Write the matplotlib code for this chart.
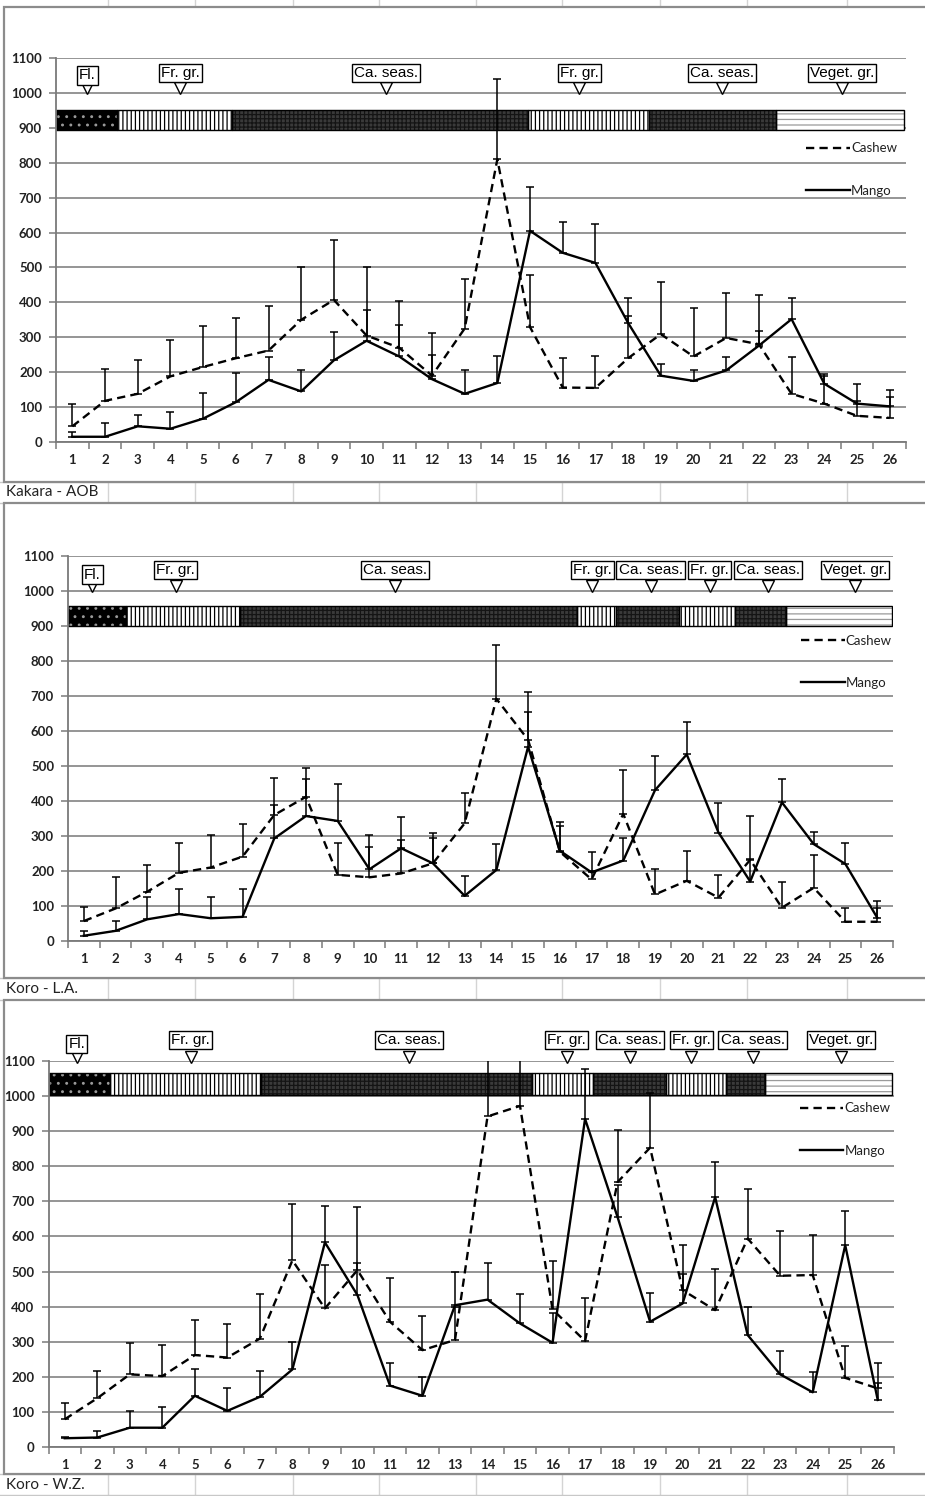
import matplotlib
matplotlib.use("Agg")
import matplotlib.pyplot as plt
import numpy as np
from matplotlib.patches import Rectangle
from matplotlib.lines import Line2D

plt.rcParams["hatch.linewidth"] = 0.9

W, H = 925, 1496
weeks = list(range(1, 27))

# ---------------- data ----------------
kakara_cashew = [45, 118, 138, 188, 215, 240, 262, 350, 407, 305, 270, 190, 325,
                 810, 329, 156, 155, 240, 309, 245, 298, 280, 138, 110, 75, 69]
kakara_cashew_top = [109, 210, 236, 291, 331, 355, 390, 501, 580, 500, 405, 312, 468,
                     1040, 477, 240, 247, 362, 457, 384, 427, 421, 243, 190, 118, 129]
kakara_mango = [15, 15, 45, 38, 67, 114, 178, 145, 234, 290, 245, 180, 138,
                169, 605, 542, 513, 341, 190, 175, 205, 276, 352, 167, 110, 102]
kakara_mango_top = [30, 54, 78, 87, 140, 199, 244, 207, 316, 377, 334, 250, 207,
                    247, 730, 630, 625, 412, 224, 207, 243, 317, 412, 195, 167, 148]

koro_la_cashew = [57, 93, 141, 195, 210, 241, 360, 412, 189, 182, 193, 222, 336,
                  692, 575, 255, 176, 363, 133, 172, 124, 232, 95, 152, 55, 55]
koro_la_cashew_top = [98, 182, 217, 281, 302, 333, 465, 493, 281, 302, 289, 293, 424,
                      845, 654, 341, 200, 489, 205, 258, 190, 357, 169, 246, 95, 93]
koro_la_mango = [15, 29, 62, 77, 65, 69, 293, 357, 343, 205, 265, 222, 129,
                 203, 555, 258, 196, 230, 431, 533, 310, 170, 396, 277, 220, 67]
koro_la_mango_top = [29, 58, 125, 148, 126, 150, 389, 462, 450, 269, 355, 310, 187,
                     277, 712, 329, 255, 293, 530, 626, 394, 233, 462, 311, 281, 114]

koro_wz_cashew = [79, 139, 207, 202, 262, 255, 309, 532, 395, 504, 357, 276, 305,
                  942, 972, 392, 302, 755, 853, 447, 390, 594, 488, 490, 197, 167]
koro_wz_cashew_top = [126, 216, 297, 290, 363, 350, 435, 692, 520, 684, 483, 373, 400,
                      1200, 1200, 530, 426, 902, 1010, 575, 506, 734, 616, 603, 288, 181]
koro_wz_mango = [25, 27, 55, 55, 146, 103, 143, 221, 583, 433, 175, 146, 404,
                 420, 352, 297, 935, 655, 357, 409, 712, 319, 207, 156, 575, 134]
koro_wz_mango_top = [29, 46, 102, 115, 221, 169, 218, 299, 686, 525, 240, 200, 499,
                     523, 437, 382, 1078, 746, 440, 494, 812, 399, 274, 213, 672, 238]

# phenological phases (bar segments), ends in week units
kakara_phases = ["fl", "fr", "ca", "fr", "ca", "veg"]
kakara_phase_ends = [2.38, 5.88, 14.95, 18.64, 22.53, 26.45]
koro_la_phases = ["fl", "fr", "ca", "fr", "ca", "fr", "ca", "veg"]
koro_la_phase_ends = [2.32, 5.93, 16.54, 17.78, 19.77, 21.53, 23.13, 26.46]
koro_wz_phases = ["fl", "fr", "ca", "fr", "ca", "fr", "ca", "veg"]
koro_wz_phase_ends = [2.40, 7.02, 15.37, 17.23, 19.49, 21.33, 22.53, 26.43]

# callout labels
kakara_notes = ["Fl.", "Fr. gr.", "Ca. seas.", "Fr. gr.", "Ca. seas.", "Veget. gr."]
kakara_notes_x = [1.45, 4.3, 10.6, 16.5, 20.87, 24.54]
koro_la_notes = ["Fl.", "Fr. gr.", "Ca. seas.", "Fr. gr.", "Ca. seas.", "Fr. gr.",
                 "Ca. seas.", "Veget. gr."]
koro_la_notes_x = [1.27, 3.89, 10.8, 17.02, 18.86, 20.72, 22.55, 25.3]
koro_wz_notes = ["Fl.", "Fr. gr.", "Ca. seas.", "Fr. gr.", "Ca. seas.", "Fr. gr.",
                 "Ca. seas.", "Veget. gr."]
koro_wz_notes_x = [1.37, 4.87, 11.58, 16.43, 18.38, 20.27, 22.15, 24.87]

site_names = ["Kakara - AOB", "Koro - L.A.", "Koro - W.Z."]
y_ticks = list(range(0, 1101, 100))

# ---------------- styles ----------------
PHASE_STYLE = {
    "fl": dict(facecolor="black", hatch="..", edgecolor="#9a9a9a"),
    "fr": dict(facecolor="white", hatch="||||", edgecolor="black"),
    "ca": dict(facecolor="#3a3a3a", hatch="++++", edgecolor="#141414"),
    "veg": dict(facecolor="white", hatch="---", edgecolor="#9a9a9a"),
}
TICK_FONT = dict(family="Lato", weight="bold", size=9.5, color="#222222")
NOTE_FONT = ["Liberation Sans", "DejaVu Sans"]
DASH = (0, (3.5, 2.2))

fig = plt.figure(figsize=(W / 100, H / 100), dpi=100)
fig.patch.set_facecolor("white")


def fx(px):
    return px / W


def fy(py):
    return 1 - py / H


# spreadsheet cell grid in background
for cx in [108, 195, 293, 379, 476, 562, 660, 747, 847]:
    fig.add_artist(Line2D([fx(cx), fx(cx)], [0, 1], transform=fig.transFigure,
                          color="#d4d4d4", lw=1.0, zorder=0.5))
for ry in [482, 503, 978, 1000, 1474, 1495]:
    fig.add_artist(Line2D([0, 1], [fy(ry), fy(ry)], transform=fig.transFigure,
                          color="#c8c8c8", lw=1.0, zorder=0.5))

frames = [(7, 482), (503, 978), (1000, 1474)]
for top, bot in frames:
    fig.add_artist(Rectangle((fx(4), fy(bot)), fx(930) - fx(4), fy(top) - fy(bot),
                             transform=fig.transFigure, facecolor="white",
                             edgecolor="#8c8c8c", lw=1.6, zorder=1))

# axes rectangles in pixels: left, right, y(1100), y(0)
axes_px = [(56, 906, 58, 442), (68, 893, 556, 941), (48.5, 894, 1061, 1447)]

panels = [
    dict(c=kakara_cashew, ct=kakara_cashew_top, m=kakara_mango, mt=kakara_mango_top,
         ph=kakara_phases, pe=kakara_phase_ends, band=(893, 952),
         notes=kakara_notes, nx=kakara_notes_x, box_y=1058, fl_y=1050, tri_y=1013,
         leg=(23.45, 781)),
    dict(c=koro_la_cashew, ct=koro_la_cashew_top, m=koro_la_mango, mt=koro_la_mango_top,
         ph=koro_la_phases, pe=koro_la_phase_ends, band=(900, 958),
         notes=koro_la_notes, nx=koro_la_notes_x, box_y=1059, fl_y=1047, tri_y=1013,
         leg=(23.6, 798)),
    dict(c=koro_wz_cashew, ct=koro_wz_cashew_top, m=koro_wz_mango, mt=koro_wz_mango_top,
         ph=koro_wz_phases, pe=koro_wz_phase_ends, band=(1003, 1066),
         notes=koro_wz_notes, nx=koro_wz_notes_x, box_y=1159, fl_y=1148, tri_y=1112,
         leg=(23.6, 905)),
]

for i, p in enumerate(panels):
    l, r, t, b = axes_px[i]
    ax = fig.add_axes([fx(l), fy(b), fx(r) - fx(l), fy(t) - fy(b)])
    ax.set_zorder(2)
    ax.set_xlim(0.5, 26.5)
    ax.set_ylim(0, 1100)

    for s in ["top", "right"]:
        ax.spines[s].set_visible(False)
    for s in ["left", "bottom"]:
        ax.spines[s].set_color("#7a7a7a")
        ax.spines[s].set_linewidth(1.3)

    ax.set_yticks(y_ticks)
    ax.set_yticklabels([str(v) for v in y_ticks], fontdict=TICK_FONT)
    ax.set_xticks(weeks)
    ax.set_xticklabels([str(w) for w in weeks], fontdict=TICK_FONT)
    ax.set_xticks(np.arange(0.5, 27, 1.0), minor=True)
    ax.tick_params(axis="x", which="major", length=0, pad=8.5)
    ax.tick_params(axis="x", which="minor", length=5, direction="out", color="#7a7a7a",
                   width=1.1)
    ax.tick_params(axis="y", length=5, direction="out", color="#7a7a7a", width=1.1, pad=5)
    ax.yaxis.grid(True, color="#8c8c8c", lw=1.3, zorder=0)
    ax.set_axisbelow(True)

    # phase band
    starts = [0.5] + p["pe"][:-1]
    widths = [e - s for s, e in zip(starts, p["pe"])]
    lo, hi = p["band"]
    for s, wdt, kind in zip(starts, widths, p["ph"]):
        ax.barh((lo + hi) / 2, wdt, left=s, height=hi - lo, linewidth=0,
                zorder=2, **PHASE_STYLE[kind])
        ax.barh((lo + hi) / 2, wdt, left=s, height=hi - lo, fill=False,
                edgecolor="black", linewidth=1.0, zorder=2.5)

    # error bars (upper only)
    c = np.array(p["c"])
    m = np.array(p["m"])
    ct = np.array(p["ct"])
    mt = np.array(p["mt"])
    ax.errorbar(weeks, c, yerr=[np.zeros_like(c), ct - c], fmt="none", ecolor="black",
                elinewidth=1.1, capsize=3, capthick=1.1, zorder=4)
    ax.errorbar(weeks, m, yerr=[np.zeros_like(m), mt - m], fmt="none", ecolor="black",
                elinewidth=1.1, capsize=3, capthick=1.1, zorder=4)

    # series
    ax.plot(weeks, c, color="black", lw=1.7, linestyle=DASH, zorder=5, label="Cashew")
    ax.plot(weeks, m, color="black", lw=1.7, zorder=5, label="Mango")

    # callouts
    for lab, xv in zip(p["notes"], p["nx"]):
        yv = p["fl_y"] if lab == "Fl." else p["box_y"]
        ax.plot([xv], [p["tri_y"]], marker="v", markersize=8.5, markerfacecolor="white",
                markeredgecolor="black", markeredgewidth=1.0, clip_on=False, zorder=5.8)
        ax.text(xv, yv, lab, ha="center", va="center", family=NOTE_FONT, fontsize=11,
                color="black", clip_on=False, zorder=6,
                bbox=dict(boxstyle="square,pad=0.14", facecolor="white",
                          edgecolor="black", lw=1.0))

    leg = ax.legend(loc="center left", bbox_to_anchor=p["leg"],
                    bbox_transform=ax.transData, frameon=False, handlelength=3.3,
                    handletextpad=0.1, labelspacing=2.3, borderpad=0, borderaxespad=0,
                    prop=dict(family="Lato", size=9.5))
    for txt in leg.get_texts():
        txt.set_color("#222222")

# site labels in the cell rows
for name, rowc in zip(site_names, [492.5, 989, 1485]):
    fig.text(fx(6), fy(rowc), name, ha="left", va="center", family="Lato",
             fontsize=11, color="#222222")

fig.savefig("out.png", dpi=100, facecolor="white")
